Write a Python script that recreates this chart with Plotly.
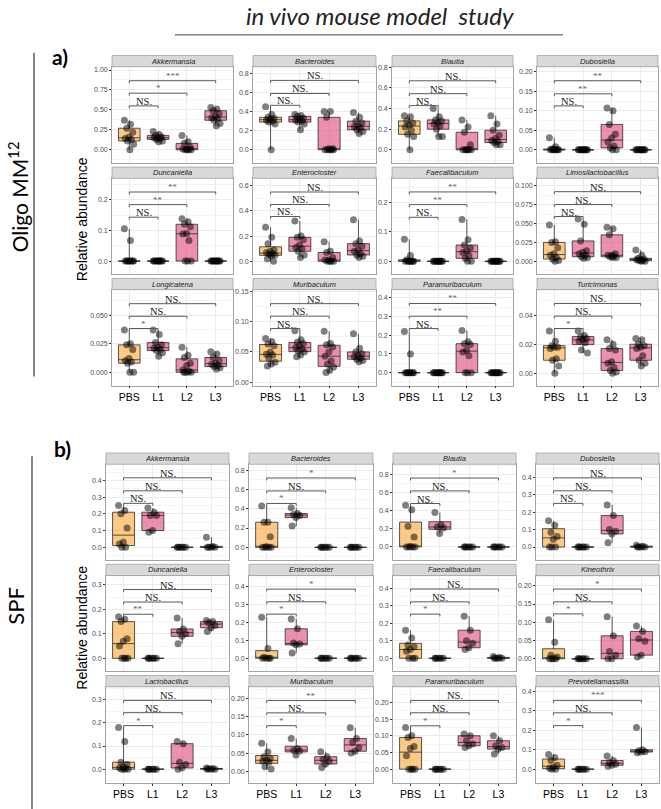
import plotly.graph_objects as go

groups = ["PBS", "L1", "L2", "L3"]

# ---------------- panel a (Oligo MM12) ----------------
a_taxa = ["Akkermansia", "Bacteroides", "Blautia", "Dubosiella",
          "Duncaniella", "Enterocloster", "Faecalibaculum", "Limosilactobacillus",
          "Longicatena", "Muribaculum", "Paramuribaculum", "Turicimonas"]
a_PBS = [
    [0.37, 0.32, 0.27, 0.22, 0.16, 0.14, 0.13, 0.11, 0.07, 0.0],
    [0.45, 0.37, 0.34, 0.33, 0.32, 0.31, 0.30, 0.29, 0.27, 0.0],
    [0.33, 0.32, 0.28, 0.26, 0.24, 0.22, 0.19, 0.15, 0.13, 0.0],
    [0.031, 0.008, 0.002, 0, 0, 0, 0, 0, 0, 0],
    [0.105, 0.067, 0, 0, 0, 0, 0, 0, 0, 0],
    [0.27, 0.19, 0.14, 0.09, 0.08, 0.07, 0.06, 0.055, 0.05, 0.045, 0.02, 0.0],
    [0.075, 0.02, 0.005, 0, 0, 0, 0, 0, 0, 0],
    [0.048, 0.026, 0.025, 0.018, 0.01, 0.008, 0.005, 0.003, 0.001, 0.0],
    [0.037, 0.025, 0.024, 0.02, 0.012, 0.01, 0.009, 0.008, 0.0, 0.0],
    [0.072, 0.067, 0.063, 0.06, 0.05, 0.046, 0.045, 0.04, 0.033, 0.03, 0.027],
    [0.22, 0.10, 0, 0, 0, 0, 0, 0, 0, 0],
    [0.029, 0.022, 0.019, 0.018, 0.018, 0.017, 0.01, 0.009, 0.005, 0.0],
]
a_L1 = [
    [0.23, 0.19, 0.18, 0.16, 0.15, 0.15, 0.14, 0.13, 0.11, 0.10],
    [0.37, 0.36, 0.35, 0.33, 0.32, 0.31, 0.30, 0.29, 0.27, 0.21],
    [0.40, 0.32, 0.29, 0.28, 0.26, 0.25, 0.23, 0.20, 0.13, 0.13],
    [0, 0, 0, 0, 0, 0, 0, 0, 0, 0],
    [0, 0, 0, 0, 0, 0, 0, 0, 0, 0],
    [0.32, 0.20, 0.19, 0.17, 0.13, 0.11, 0.10, 0.08, 0.05, 0.03],
    [0, 0, 0, 0, 0, 0, 0, 0, 0, 0],
    [0.056, 0.049, 0.027, 0.014, 0.012, 0.01, 0.008, 0.006, 0.005, 0.004],
    [0.037, 0.033, 0.026, 0.024, 0.022, 0.021, 0.02, 0.019, 0.017, 0.014],
    [0.085, 0.07, 0.066, 0.064, 0.06, 0.057, 0.055, 0.052, 0.05, 0.045, 0.042],
    [0, 0, 0, 0, 0, 0, 0, 0, 0, 0],
    [0.029, 0.026, 0.025, 0.024, 0.023, 0.022, 0.021, 0.016, 0.014],
]
a_L2 = [
    [0.18, 0.10, 0.08, 0.03, 0.01, 0.01, 0, 0, 0, 0],
    [0.40, 0.40, 0.34, 0.01, 0.01, 0, 0, 0, 0, 0],
    [0.29, 0.22, 0.17, 0.05, 0, 0, 0, 0, 0, 0],
    [0.107, 0.10, 0.065, 0.04, 0.03, 0.02, 0.01, 0.005, 0.0, 0.0],
    [0.138, 0.128, 0.12, 0.112, 0.09, 0.088, 0.067, 0, 0, 0],
    [0.155, 0.08, 0.07, 0.03, 0.01, 0.01, 0, 0, 0, 0],
    [0.142, 0.073, 0.055, 0.045, 0.035, 0.03, 0.02, 0.01, 0, 0],
    [0.045, 0.043, 0.035, 0.01, 0.008, 0.008, 0.007, 0.006, 0.005, 0.005],
    [0.022, 0.015, 0.013, 0.008, 0.006, 0.002, 0.001, 0, 0, 0, 0],
    [0.084, 0.064, 0.062, 0.058, 0.05, 0.043, 0.035, 0.03, 0.025, 0.02, 0.016],
    [0.225, 0.165, 0.155, 0.15, 0.12, 0.11, 0.09, 0, 0, 0],
    [0.023, 0.02, 0.017, 0.016, 0.008, 0.007, 0.004, 0.002, 0.001, 0.0],
]
a_L3 = [
    [0.53, 0.51, 0.49, 0.45, 0.42, 0.40, 0.39, 0.37, 0.33, 0.30],
    [0.39, 0.34, 0.30, 0.28, 0.25, 0.24, 0.23, 0.21, 0.19, 0.17],
    [0.33, 0.25, 0.19, 0.14, 0.11, 0.09, 0.08, 0.07, 0.05, 0.05],
    [0, 0, 0, 0, 0, 0, 0, 0, 0, 0],
    [0, 0, 0, 0, 0, 0, 0, 0, 0, 0],
    [0.33, 0.16, 0.14, 0.12, 0.09, 0.08, 0.06, 0.05, 0.04, 0.03],
    [0, 0, 0, 0, 0, 0, 0, 0, 0, 0],
    [0.015, 0.008, 0.004, 0.003, 0.002, 0.002, 0.001, 0.001, 0.0, 0.0],
    [0.018, 0.016, 0.013, 0.01, 0.008, 0.007, 0.006, 0.005, 0.004, 0.003],
    [0.08, 0.056, 0.05, 0.047, 0.044, 0.042, 0.04, 0.038, 0.036, 0.034],
    [0, 0, 0, 0, 0, 0, 0, 0, 0, 0],
    [0.024, 0.023, 0.02, 0.019, 0.018, 0.017, 0.012, 0.009, 0.007, 0.005],
]
a_sig = [["NS.", "*", "***"], ["NS.", "NS.", "NS."], ["NS.", "NS.", "NS."], ["NS.", "**", "**"],
         ["NS.", "**", "**"], ["NS.", "NS.", "NS."], ["NS.", "**", "**"], ["NS.", "NS.", "NS."],
         ["*", "NS.", "NS."], ["NS.", "NS.", "NS."], ["NS.", "**", "**"], ["*", "NS.", "NS."]]
a_sig_y = [[0.55, 0.71, 0.866], [0.466, 0.59, 0.727], [0.428, 0.544, 0.669], [0.1125, 0.1435, 0.177],
           [0.143, 0.184, 0.225], [0.355, 0.45, 0.549], [0.149, 0.192, 0.235], [0.0592, 0.075, 0.092],
           [0.0383, 0.049, 0.060], [0.0885, 0.109, 0.1295], [0.236, 0.302, 0.37], [0.0308, 0.0393, 0.048]]

# ---------------- panel b (SPF) ----------------
b_taxa = ["Akkermansia", "Bacteroides", "Blautia", "Dubosiella",
          "Duncaniella", "Enterocloster", "Faecalibaculum", "Kineothrix",
          "Lactobacillus", "Muribaculum", "Paramuribaculum", "Prevotellamassilia"]
b_PBS = [
    [0.25, 0.22, 0.20, 0.115, 0.03, 0.02, 0.0, 0.0],
    [0.43, 0.26, 0.26, 0.11, 0.005, 0.0, 0.0, 0.0, 0.0],
    [0.46, 0.41, 0.23, 0.11, 0.005, 0.0, 0.0, 0.0, 0.0],
    [0.15, 0.125, 0.085, 0.06, 0.045, 0.0, 0.0, 0.0],
    [0.17, 0.16, 0.15, 0.08, 0.07, 0.05, 0.0, 0.0, 0.0, 0.0],
    [0.23, 0.055, 0.005, 0.0, 0.0, 0.0, 0.0],
    [0.16, 0.115, 0.075, 0.065, 0.05, 0.04, 0.0, 0.0, 0.0],
    [0.107, 0.045, 0.01, 0.005, 0.0, 0.0, 0.0, 0.0],
    [0.18, 0.12, 0.03, 0.02, 0.01, 0.005, 0.003, 0.0, 0.0, 0.0],
    [0.077, 0.053, 0.04, 0.035, 0.03, 0.028, 0.025, 0.012, 0.006],
    [0.125, 0.10, 0.095, 0.068, 0.062, 0.04, 0.0, 0.0, 0.0, 0.0],
    [0.075, 0.06, 0.045, 0.02, 0.01, 0.005, 0.0, 0.0],
]
b_L1 = [
    [0.235, 0.21, 0.19, 0.19, 0.10, 0.09],
    [0.41, 0.35, 0.34, 0.33, 0.31, 0.22],
    [0.38, 0.245, 0.22, 0.21, 0.15],
    [0, 0, 0, 0, 0, 0],
    [0, 0, 0, 0, 0, 0],
    [0.22, 0.165, 0.085, 0.08, 0.075, 0.03],
    [0, 0, 0, 0, 0, 0],
    [0, 0, 0, 0, 0, 0],
    [0, 0, 0, 0, 0, 0],
    [0.09, 0.062, 0.058, 0.056, 0.045],
    [0, 0, 0, 0, 0, 0],
    [0, 0, 0, 0, 0, 0],
]
b_L2 = [
    [0, 0, 0, 0, 0, 0],
    [0, 0, 0, 0, 0, 0],
    [0, 0, 0, 0, 0, 0],
    [0.24, 0.18, 0.10, 0.09, 0.075, 0.025],
    [0.165, 0.12, 0.11, 0.10, 0.09, 0.06],
    [0, 0, 0, 0, 0, 0],
    [0.24, 0.16, 0.10, 0.085, 0.06, 0.05],
    [0.115, 0.063, 0.02, 0.01, 0.0, 0.0],
    [0.12, 0.11, 0.03, 0.02, 0.005, 0.0],
    [0.054, 0.04, 0.032, 0.028, 0.02, 0.01],
    [0.105, 0.10, 0.085, 0.075, 0.07, 0.065],
    [0.068, 0.045, 0.035, 0.025, 0.02, 0.015],
]
b_L3 = [
    [0.06, 0.005, 0.0, 0.0, 0.0, 0.0],
    [0, 0, 0, 0, 0, 0],
    [0, 0, 0, 0, 0, 0],
    [0.01, 0.005, 0.0, 0.0, 0.0, 0.0],
    [0.155, 0.15, 0.145, 0.135, 0.125, 0.11],
    [0, 0, 0, 0, 0, 0],
    [0.01, 0.005, 0.0, 0.0, 0.0, 0.0],
    [0.09, 0.075, 0.055, 0.048, 0.01, 0.005],
    [0.005, 0.003, 0.002, 0.0, 0.0, 0.0],
    [0.12, 0.09, 0.08, 0.065, 0.055, 0.05],
    [0.10, 0.085, 0.07, 0.065, 0.06, 0.045],
    [0.215, 0.10, 0.095, 0.09, 0.088, 0.085],
]
b_sig = [["NS.", "NS.", "NS."], ["*", "NS.", "*"], ["NS.", "NS.", "*"], ["NS.", "NS.", "NS."],
         ["**", "NS.", "NS."], ["*", "NS.", "*"], ["*", "NS.", "NS."], ["*", "NS.", "*"],
         ["*", "NS.", "NS."], ["*", "NS.", "**"], ["*", "NS.", "NS."], ["*", "NS.", "***"]]
b_sig_y = [[0.263, 0.338, 0.416], [0.455, 0.585, 0.72], [0.48, 0.619, 0.761], [0.25, 0.322, 0.396],
           [0.18, 0.23, 0.281], [0.247, 0.316, 0.387], [0.252, 0.322, 0.395], [0.123, 0.156, 0.191],
           [0.188, 0.244, 0.297], [0.1255, 0.161, 0.195], [0.130, 0.169, 0.206], [0.224, 0.29, 0.354]]

# ---------------- layout constants ----------------
W, H = 661, 809
def px(x): return x / W
def py(y): return 1 - y / H

a_axes = dict(
    cols=[(112, 233), (253, 376), (392, 513), (537, 658)],
    rows=[(64, 160.7), (176, 271.7), (287.7, 384)],
    lo=[-0.1675, -0.14, -0.129, -0.034, -0.041, -0.098, -0.042, -0.0163, -0.0116, -0.0054, -0.069, -0.0084],
    hi=[1.041, 0.87, 0.805, 0.2128, 0.2695, 0.657, 0.281, 0.1096, 0.0723, 0.1526, 0.444, 0.0575],
    dt=[0.25, 0.2, 0.2, 0.05, 0.1, 0.2, 0.1, 0.025, 0.025, 0.05, 0.1, 0.02],
    fmt=[".2f", ".1f", ".1f", ".2f", ".1f", ".1f", ".1f", ".3f", ".3f", ".2f", ".1f", ".2f"],
)
b_axes = dict(
    cols=[(106, 229), (249, 373), (393, 516), (536, 659)],
    rows=[(463, 559), (574.7, 670.7), (686.3, 782.7)],
    lo=[-0.076, -0.131, -0.143, -0.074, -0.0526, -0.0726, -0.074, -0.034, -0.059, -0.032, -0.041, -0.07],
    hi=[0.497, 0.862, 0.913, 0.474, 0.338, 0.463, 0.472, 0.228, 0.356, 0.233, 0.247, 0.424],
    dt=[0.1, 0.2, 0.2, 0.1, 0.1, 0.1, 0.1, 0.05, 0.1, 0.05, 0.05, 0.1],
    fmt=[".1f", ".1f", ".1f", ".1f", ".1f", ".1f", ".1f", ".2f", ".1f", ".2f", ".2f", ".1f"],
)
STRIP_H = 11.3
FILL = ["rgba(250,170,60,0.62)", "rgba(221,70,120,0.6)", "rgba(221,70,120,0.6)", "rgba(221,70,120,0.6)"]
BORDER = "#a3a3a3"
GRID = "#ebebeb"

fig = go.Figure()
layout = dict(width=W, height=H, margin=dict(l=0, r=0, t=0, b=0),
              paper_bgcolor="white", plot_bgcolor="white", showlegend=False,
              font=dict(family="Liberation Sans", color="#222"))
shapes, annots = [], []


def jitter(n):
    # deterministic spread of points around the category centre
    return [(((i * 0.6180339887) % 1.0) - 0.5) * 0.34 for i in range(n)]


def build(taxa, series, sig, sig_y, ax, offset):
    for k, name in enumerate(taxa):
        idx = offset + k + 1
        r, c = divmod(k, 4)
        x0, x1 = ax["cols"][c]
        y0, y1 = ax["rows"][r]
        lo, hi = ax["lo"][k], ax["hi"][k]
        xs = "x" if idx == 1 else f"x{idx}"
        ys = "y" if idx == 1 else f"y{idx}"
        for g in range(4):
            vals = series[g][k]
            fig.add_trace(go.Scatter(
                x=[g + j for j in jitter(len(vals))], y=vals, mode="markers",
                marker=dict(size=7, color="rgba(0,0,0,0.5)", line=dict(width=0)),
                xaxis=xs, yaxis=ys, hoverinfo="skip"))
            fig.add_trace(go.Box(
                x=[g] * len(vals), y=vals, width=0.75, boxpoints=False, whiskerwidth=0,
                fillcolor=FILL[g], line=dict(color="rgba(45,45,45,0.8)", width=1),
                xaxis=xs, yaxis=ys, hoverinfo="skip"))
        tip = 0.025 * (hi - lo)
        for j in range(3):
            yv = sig_y[k][j]
            fig.add_trace(go.Scatter(
                x=[0, 0, j + 1, j + 1], y=[yv - tip, yv, yv, yv - tip], mode="lines",
                line=dict(color="#5a5a5a", width=1), xaxis=xs, yaxis=ys, hoverinfo="skip"))
            lab = sig[k][j]
            is_ns = lab.startswith("NS")
            annots.append(dict(
                x=(j + 1) / 2, y=yv, xref=xs, yref=ys, text=lab, showarrow=False,
                xanchor="center", yanchor="bottom", yshift=-3 if is_ns else -2,
                font=dict(family="Liberation Serif", size=10.5 if is_ns else 9,
                          color="#1a1a1a" if is_ns else "#666")))
        last = r == 2
        layout["xaxis" if idx == 1 else f"xaxis{idx}"] = dict(
            domain=[px(x0), px(x1)], range=[-0.6, 3.6], anchor=ys,
            tickvals=[0, 1, 2, 3], ticktext=groups, showticklabels=last,
            ticks="outside" if last else "", ticklen=2, tickcolor="#333",
            tickfont=dict(size=10.5, color="black", family="Liberation Sans"),
            showgrid=True, gridcolor=GRID, gridwidth=0.8, zeroline=False,
            showline=True, mirror=True, linecolor=BORDER, linewidth=0.8)
        layout["yaxis" if idx == 1 else f"yaxis{idx}"] = dict(
            domain=[py(y1), py(y0)], range=[lo, hi], anchor=xs,
            tick0=0, dtick=ax["dt"][k], tickformat=ax["fmt"][k],
            ticks="outside", ticklen=2, tickcolor="#333",
            tickfont=dict(size=7, color="#4d4d4d"),
            showgrid=True, gridcolor=GRID, gridwidth=0.8, zeroline=False,
            minor=dict(tick0=0, dtick=ax["dt"][k] / 2, showgrid=True, gridcolor="#f5f5f5", gridwidth=0.6),
            showline=True, mirror=True, linecolor=BORDER, linewidth=0.8)
        # facet strip
        shapes.append(dict(type="rect", xref="paper", yref="paper",
                           x0=px(x0), x1=px(x1), y0=py(y0), y1=py(y0 - STRIP_H),
                           fillcolor="#d9d9d9", line=dict(color=BORDER, width=0.8)))
        annots.append(dict(x=px((x0 + x1) / 2), y=py(y0 - STRIP_H / 2), xref="paper", yref="paper",
                           xanchor="center", yanchor="middle",
                           text=f"<i>{name}</i>", showarrow=False,
                           font=dict(size=7.5, color="#1a1a1a")))


build(a_taxa, [a_PBS, a_L1, a_L2, a_L3], a_sig, a_sig_y, a_axes, 0)
build(b_taxa, [b_PBS, b_L1, b_L2, b_L3], b_sig, b_sig_y, b_axes, 12)

# ---------------- decorations ----------------
def note(x, y, text, **kw):
    d = dict(x=px(x), y=py(y), xref="paper", yref="paper", showarrow=False,
             xanchor="center", yanchor="middle", text=text)
    d.update(kw)
    return d

annots += [
    note(380, 13, "<i>in vivo mouse model\u00a0 study</i>",
         font=dict(family="Lato", size=24, color="#222")),
    note(60, 54, "<b>a)</b>", font=dict(family="Lato", size=21, color="black")),
    note(62, 447, "<b>b)</b>", font=dict(family="Lato", size=21, color="black")),
    note(18, 195, "Oligo MM<sup>12</sup>", textangle=-90,
         font=dict(family="Lato", size=21, color="black")),
    note(16, 605, "SPF", textangle=-90, font=dict(family="Lato", size=22, color="black")),
    note(82, 217, "Relative abundance", textangle=-90, font=dict(size=14, color="black")),
    note(82, 627, "Relative abundance", textangle=-90, font=dict(size=14, color="black")),
]
shapes += [
    dict(type="line", xref="paper", yref="paper", x0=px(175), x1=px(563), y0=py(32), y1=py(32),
         line=dict(color="#444", width=1)),
    dict(type="line", xref="paper", yref="paper", x0=px(34), x1=px(34), y0=py(50), y1=py(375),
         line=dict(color="#333", width=1.2)),
    dict(type="line", xref="paper", yref="paper", x0=px(32), x1=px(32), y0=py(455), y1=py(809),
         line=dict(color="#333", width=1.2)),
]
layout["shapes"] = shapes
layout["annotations"] = annots
fig.update_layout(**layout)
fig.write_html("out.html")
